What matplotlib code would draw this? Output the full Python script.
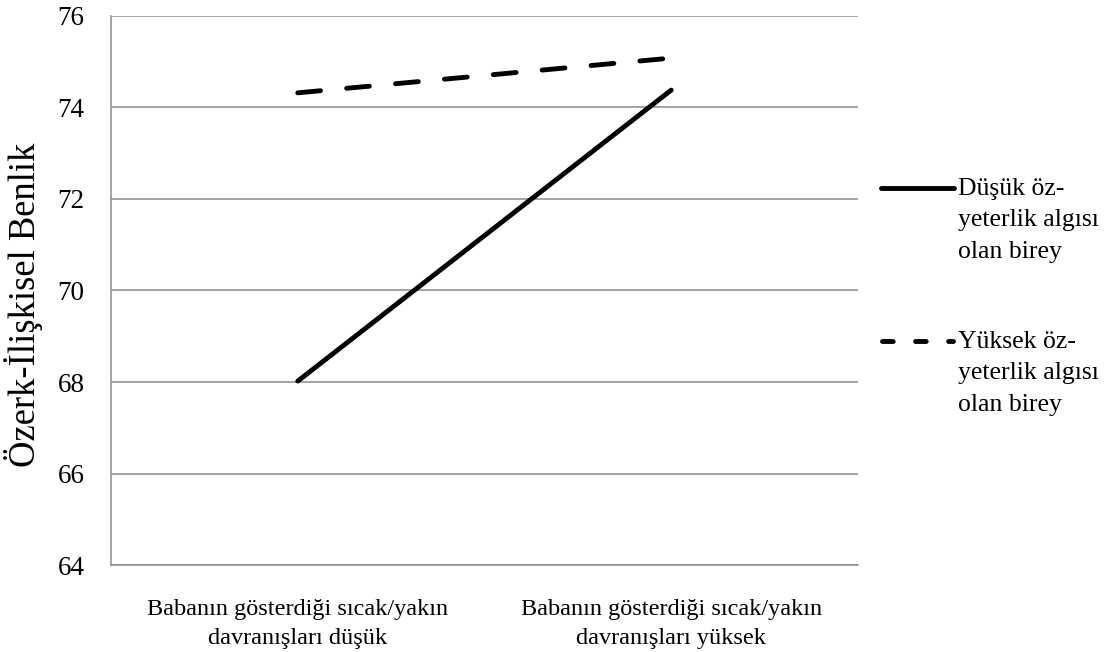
import matplotlib
matplotlib.use("Agg")
import matplotlib.pyplot as plt
from matplotlib.lines import Line2D

plt.rcParams['font.family'] = ['Liberation Serif', 'DejaVu Serif']

categories = ["Babanın gösterdiği sıcak/yakın\ndavranışları düşük",
              "Babanın gösterdiği sıcak/yakın\ndavranışları yüksek"]
low_selfeff = [68.02, 74.38]
high_selfeff = [74.32, 75.08]
series_labels = ["Düşük öz-\nyeterlik algısı\nolan birey",
                 "Yüksek öz-\nyeterlik algısı\nolan birey"]
yticks = [64, 66, 68, 70, 72, 74, 76]

fig = plt.figure(figsize=(11.07, 6.52), dpi=100)
ax = fig.add_axes([0.1003, 0.1334, 0.775 - 0.1003, 0.9755 - 0.1334])

LW = 3.5
DASH = (4.7, 5.4)
x = [0.5, 1.5]
ax.plot(x, low_selfeff, color='black', lw=LW, solid_capstyle='round')
ax.plot(x, high_selfeff, color='black', lw=LW, dashes=DASH, dash_capstyle='round')

ax.set_xlim(0, 2)
ax.set_ylim(64, 76)
ax.set_yticks(yticks)
ax.set_yticklabels([str(t) for t in yticks], fontsize=19.5)
ax.set_xticks(x)
ax.set_xticklabels(categories, fontsize=17.5, linespacing=1.5)
ax.tick_params(axis='y', length=0, pad=19)
ax.tick_params(axis='x', length=0, pad=24.5)
ax.grid(axis='y', color='#8c8c8c', lw=1.1)
ax.set_axisbelow(True)
for s in ['top', 'right']:
    ax.spines[s].set_visible(False)
for s in ['left', 'bottom']:
    ax.spines[s].set_color('#8c8c8c')
    ax.spines[s].set_linewidth(1.1)
ax.set_ylabel("Özerk-İlişkisel Benlik", fontsize=26.4, va='center')
ax.yaxis.set_label_coords(-0.117, 0.4736)

# legend (manual, handle aligned with first text line)
W, H = 1107, 652
def fx(px): return px / W
def fy(py): return 1 - py / H
leg_y = [188, 341]
leg_x = [(881, 954), (882, 953)]
styles = [dict(), dict(dashes=(2.2, 4.6))]
for yy, (x0, x1), st, lab in zip(leg_y, leg_x, styles, series_labels):
    fig.add_artist(Line2D([fx(x0), fx(x1)], [fy(yy), fy(yy)], color='black',
                          lw=LW, solid_capstyle='round', dash_capstyle='round', **st))
    fig.text(fx(958), fy(yy - 10), lab, fontsize=18.5, va='top', ha='left', linespacing=1.55)

fig.savefig("out.png", dpi=100)
